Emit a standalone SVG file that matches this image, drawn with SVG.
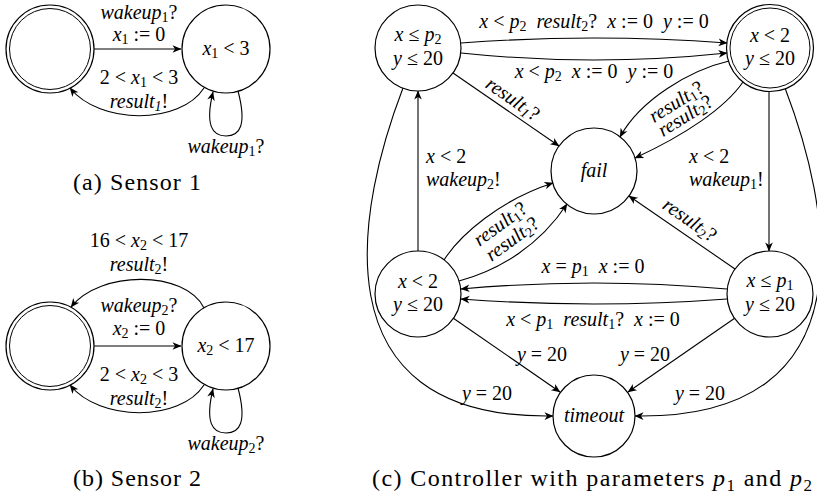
<svg xmlns="http://www.w3.org/2000/svg" width="817" height="500" viewBox="0 0 817 500" font-family="Liberation Serif, serif">
<defs>
<marker id="ah" viewBox="-10 -5 11 10" refX="0" refY="0" markerWidth="11" markerHeight="10" markerUnits="userSpaceOnUse" orient="auto">
<path d="M0.5,0 L-8.5,-3.8 L-6,0 L-8.5,3.8 Z" fill="#000"/>
</marker>
<style>
.node circle{fill:#fff;stroke:#000;stroke-width:1.2}
.node circle.in{fill:none;stroke-width:1}
#edges path{fill:none;stroke:#000;stroke-width:1.1}
#edges path.a{marker-end:url(#ah)}
text{font-family:'Liberation Serif',serif;font-size:20px;fill:#000}
.m{text-anchor:middle}
.i{font-style:italic}
.s{font-size:14px}
.cap{font-size:24px}
.cs{font-size:17px}
</style>
</defs>
<rect width="817" height="500" fill="#fff"/>

<g id="edges">
<path class="a" d="M94,49 L181,49"/>
<path class="a" d="M204,88 C180,125 100,125 70,88"/>
<path class="a" d="M238,91 C247,125 240,136 226,136 C212,136 205,125 213,92"/>
<path class="a" d="M94,346 L181,346"/>
<path class="a" d="M204,308 C185,270 100,270 71,307"/>
<path class="a" d="M204,385 C180,422 100,422 70,385"/>
<path class="a" d="M238,388 C247,422 240,433 226,433 C212,433 205,422 213,389"/>
<path class="a" d="M461,43 Q594,33 727,43"/>
<path class="a" d="M461,53 Q594,67 727,53"/>
<path class="a" d="M453,73 L559,146"/>
<path class="a" d="M729,61 C690,70 640,100 620,137"/>
<path class="a" d="M743,82 C725,108 685,135 635,158"/>
<path class="a" d="M769,91 L769,251"/>
<path class="a" d="M735,269 L629,196"/>
<path class="a" d="M418,251 L418,91"/>
<path class="a" d="M444,260 C460,235 500,200 553,183"/>
<path class="a" d="M459,281 C500,270 540,245 567,204"/>
<path class="a" d="M727,289 Q594,277 461,289"/>
<path class="a" d="M727,299 Q594,309 461,299"/>
<path class="a" d="M453,318 L560,392"/>
<path class="a" d="M735,318 L628,392"/>
<path class="a" d="M403,88 C360,200 310,420 553,416"/>
<path class="a" d="M785,88 C828,200 878,420 635,416"/>
</g>

<g id="edge-labels">
<text class="m" x="139" y="19"><tspan class="i">wakeup</tspan><tspan class="s" dy="3">1</tspan><tspan dy="-3">?</tspan></text>
<text class="m" x="139" y="41"><tspan class="i">x</tspan><tspan class="s" dy="3">1</tspan><tspan dy="-3"> := 0</tspan></text>
<text class="m" x="139" y="84">2 &lt; <tspan class="i">x</tspan><tspan class="s" dy="3">1</tspan><tspan dy="-3"> &lt; 3</tspan></text>
<text class="m" x="139" y="108"><tspan class="i">result<tspan class="s" dy="3">1</tspan></tspan><tspan dy="-3">!</tspan></text>
<text class="m" x="226" y="153"><tspan class="i">wakeup</tspan><tspan class="s" dy="3">1</tspan><tspan dy="-3">?</tspan></text>
<text class="m" x="139" y="247">16 &lt; <tspan class="i">x</tspan><tspan class="s" dy="3">2</tspan><tspan dy="-3"> &lt; 17</tspan></text>
<text class="m" x="139" y="271"><tspan class="i">result</tspan><tspan class="s" dy="3">2</tspan><tspan dy="-3">!</tspan></text>
<text class="m" x="139" y="312"><tspan class="i">wakeup</tspan><tspan class="s" dy="3">2</tspan><tspan dy="-3">?</tspan></text>
<text class="m" x="139" y="335"><tspan class="i">x</tspan><tspan class="s" dy="3">2</tspan><tspan dy="-3"> := 0</tspan></text>
<text class="m" x="139" y="381">2 &lt; <tspan class="i">x</tspan><tspan class="s" dy="3">2</tspan><tspan dy="-3"> &lt; 3</tspan></text>
<text class="m" x="139" y="405"><tspan class="i">result</tspan><tspan class="s" dy="3">2</tspan><tspan dy="-3">!</tspan></text>
<text class="m" x="226" y="450"><tspan class="i">wakeup</tspan><tspan class="s" dy="3">2</tspan><tspan dy="-3">?</tspan></text>
<text class="m" x="594" y="28"><tspan class="i">x</tspan> &lt; <tspan class="i">p</tspan><tspan class="s" dy="3">2</tspan><tspan dy="-3" dx="10" class="i">result</tspan><tspan class="s" dy="3">2</tspan><tspan dy="-3">?</tspan><tspan dx="10" class="i">x</tspan> := 0<tspan dx="10" class="i">y</tspan> := 0</text>
<text class="m" x="594" y="78"><tspan class="i">x</tspan> &lt; <tspan class="i">p</tspan><tspan class="s" dy="3">2</tspan><tspan dy="-3" dx="10" class="i">x</tspan> := 0<tspan dx="10" class="i">y</tspan> := 0</text>
<text transform="translate(512,100) rotate(35)" class="m" y="5"><tspan class="i">result<tspan class="s" dy="3">1</tspan></tspan><tspan dy="-3">?</tspan></text>
<text transform="translate(677,103) rotate(-32)" class="m" y="5"><tspan class="i">result</tspan><tspan class="s" dy="3">1</tspan><tspan dy="-3">?</tspan></text>
<text transform="translate(686,117) rotate(-32)" class="m" y="5"><tspan class="i">result</tspan><tspan class="s" dy="3">2</tspan><tspan dy="-3">?</tspan></text>
<text x="426" y="163"><tspan class="i">x</tspan> &lt; 2</text>
<text x="426" y="186"><tspan class="i">wakeup</tspan><tspan class="s" dy="3">2</tspan><tspan dy="-3">!</tspan></text>
<text x="689" y="163"><tspan class="i">x</tspan> &lt; 2</text>
<text x="689" y="186"><tspan class="i">wakeup</tspan><tspan class="s" dy="3">1</tspan><tspan dy="-3">!</tspan></text>
<text transform="translate(689,221) rotate(35)" class="m" y="5"><tspan class="i">result</tspan><tspan class="s" dy="3">2</tspan><tspan dy="-3">?</tspan></text>
<text transform="translate(501,225) rotate(-36)" class="m" y="5"><tspan class="i">result</tspan><tspan class="s" dy="3">1</tspan><tspan dy="-3">?</tspan></text>
<text transform="translate(513,240) rotate(-36)" class="m" y="5"><tspan class="i">result</tspan><tspan class="s" dy="3">2</tspan><tspan dy="-3">?</tspan></text>
<text class="m" x="593" y="273"><tspan class="i">x</tspan> = <tspan class="i">p</tspan><tspan class="s" dy="3">1</tspan><tspan dy="-3" dx="10" class="i">x</tspan> := 0</text>
<text class="m" x="593" y="326"><tspan class="i">x</tspan> &lt; <tspan class="i">p</tspan><tspan class="s" dy="3">1</tspan><tspan dy="-3" dx="10" class="i">result</tspan><tspan class="s" dy="3">1</tspan><tspan dy="-3">?</tspan><tspan dx="10" class="i">x</tspan> := 0</text>
<text class="m" x="542" y="361"><tspan class="i">y</tspan> = 20</text>
<text class="m" x="645" y="361"><tspan class="i">y</tspan> = 20</text>
<text class="m" x="487" y="400"><tspan class="i">y</tspan> = 20</text>
<text class="m" x="700" y="400"><tspan class="i">y</tspan> = 20</text>
</g>

<g id="s1-init" class="node"><circle cx="50" cy="49" r="44"/><circle class="in" cx="50" cy="49" r="40.5"/></g>
<g id="s1-run" class="node"><circle cx="226" cy="49" r="44"/>
<text class="m" x="226" y="55"><tspan class="i">x</tspan><tspan class="s" dy="3">1</tspan><tspan dy="-3"> &lt; 3</tspan></text></g>

<g id="s2-init" class="node"><circle cx="50" cy="346" r="44"/><circle class="in" cx="50" cy="346" r="40.5"/></g>
<g id="s2-run" class="node"><circle cx="226" cy="346" r="44"/>
<text class="m" x="226" y="352"><tspan class="i">x</tspan><tspan class="s" dy="3">2</tspan><tspan dy="-3"> &lt; 17</tspan></text></g>

<g id="c-wait2" class="node"><circle cx="418" cy="48" r="43"/>
<text class="m" x="418" y="41"><tspan class="i">x</tspan> ≤ <tspan class="i">p</tspan><tspan class="s" dy="3">2</tspan></text>
<text class="m" x="418" y="65"><tspan class="i">y</tspan> ≤ 20</text></g>
<g id="c-init" class="node"><circle cx="770" cy="48" r="43.5"/><circle class="in" cx="770" cy="48" r="40"/>
<text class="m" x="770" y="42"><tspan class="i">x</tspan> &lt; 2</text>
<text class="m" x="770" y="65"><tspan class="i">y</tspan> ≤ 20</text></g>
<g id="c-fail" class="node"><circle cx="594" cy="171" r="43"/>
<text class="m i" x="594" y="177">fail</text></g>
<g id="c-woke2" class="node"><circle cx="418" cy="294" r="43"/>
<text class="m" x="418" y="288"><tspan class="i">x</tspan> &lt; 2</text>
<text class="m" x="418" y="311"><tspan class="i">y</tspan> ≤ 20</text></g>
<g id="c-wait1" class="node"><circle cx="770" cy="294" r="43"/>
<text class="m" x="770" y="287"><tspan class="i">x</tspan> ≤ <tspan class="i">p</tspan><tspan class="s" dy="3">1</tspan></text>
<text class="m" x="770" y="311"><tspan class="i">y</tspan> ≤ 20</text></g>
<g id="c-timeout" class="node"><circle cx="594" cy="416" r="41"/>
<text class="m i" x="594" y="422">timeout</text></g>

<g id="captions">
<text class="m cap" x="137" y="190" textLength="128" lengthAdjust="spacing">(a) Sensor 1</text>
<text class="m cap" x="137" y="486" textLength="128" lengthAdjust="spacing">(b) Sensor 2</text>
<text class="m cap" x="592" y="486" textLength="440" lengthAdjust="spacing">(c) Controller with parameters <tspan class="i">p</tspan><tspan class="cs" dy="5">1</tspan><tspan dy="-5"> and </tspan><tspan class="i">p</tspan><tspan class="cs" dy="5">2</tspan></text>
</g>
</svg>
